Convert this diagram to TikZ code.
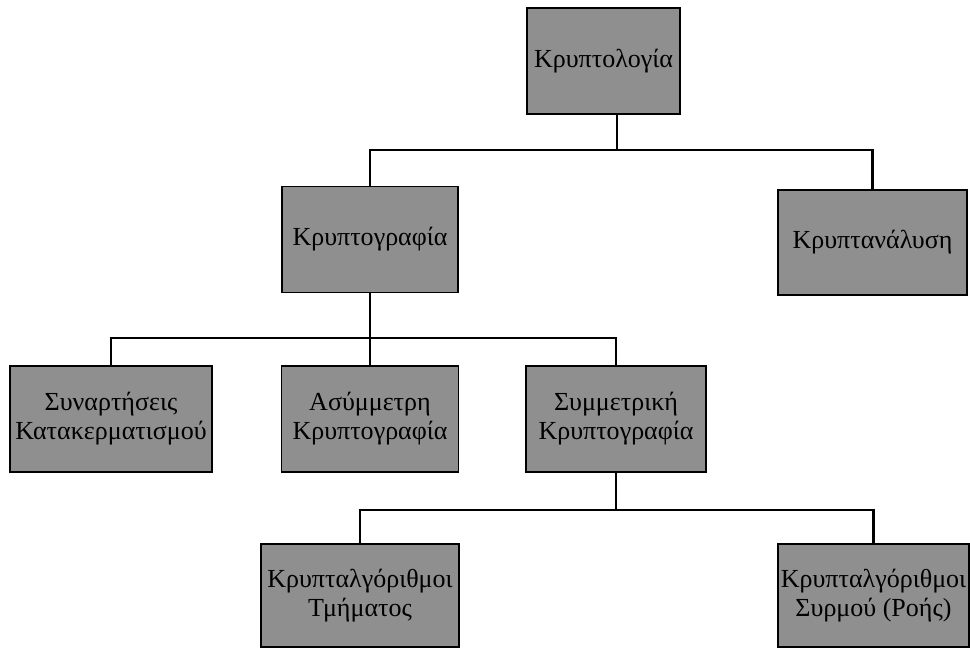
\documentclass[tikz,border=0pt]{standalone}
\usepackage{fontspec}
\setmainfont{Liberation Serif}
\begin{document}
\begin{tikzpicture}[x=0.025cm, y=-0.025cm,
    font=\fontsize{18.5}{20.5}\selectfont,
    box/.style={draw, line width=1.3pt, fill=black!44, inner sep=1pt,
                minimum height=2.65cm, align=center},
    conn/.style={line width=2pt},
  ]
    \useasboundingbox (0,0) rectangle (970,648);

    % Κρυπτολογία
    \node[box, minimum width=3.82cm] (lgy) at (603.5,61) {Κρυπτολογία};

    % Κρυπτογραφία, Κρυπτανάλυση
    \node[box, minimum width=4.4cm] (grf) at (370,239.5) {Κρυπτογραφία};
    \node[box, minimum width=4.72cm, minimum height=2.62cm] (anl) at (872.5,242.5) {Κρυπτανάλυση};

    % είδη κρυπτογραφίας
    \node[box, minimum width=5.05cm] (hash) at (111,419) {Συναρτήσεις\\Κατακερματισμού};
    \node[box, minimum width=4.42cm] (asym) at (370,419) {Ασύμμετρη\\Κρυπτογραφία};
    \node[box, minimum width=4.5cm] (sym) at (616,419) {Συμμετρική\\Κρυπτογραφία};

    % κρυπταλγόριθμοι
    \node[box, minimum width=4.95cm, minimum height=2.58cm] (blk) at (360,595.5) {Κρυπταλγόριθμοι\\Τμήματος};
    \node[box, minimum width=4.78cm, minimum height=2.58cm] (strm) at (873.5,595.5) {Κρυπταλγόριθμοι\\Συρμού (Ροής)};

    % γραμμές
    \coordinate (j1) at (617,150);
    \draw[conn] (j1) -- (j1 |- lgy.south);
    \draw[conn] (grf.north) |- (j1) -| (anl.north);

    \coordinate (j2) at (370,338);
    \draw[conn] (grf.south) -- (asym.north);
    \draw[conn] (hash.north) |- (j2) -| (sym.north);

    \coordinate (j3) at (616,510);
    \draw[conn] (sym.south) -- (j3);
    \draw[conn] (blk.north) |- (j3) -| (strm.north);
  \end{tikzpicture}
\end{document}
